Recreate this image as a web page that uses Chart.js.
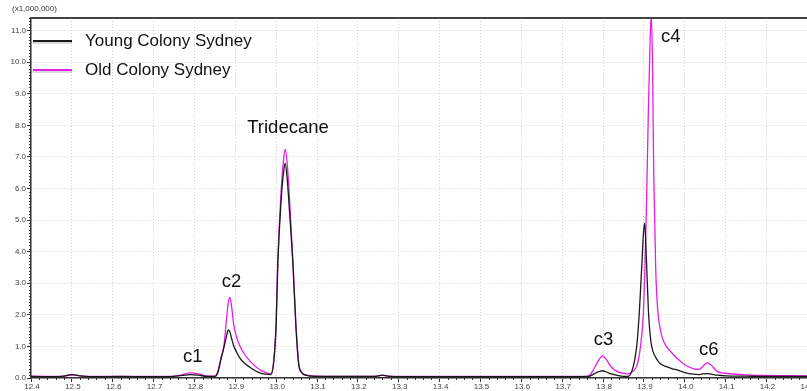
<!DOCTYPE html>
<html>
<head>
<meta charset="utf-8">
<script src="https://cdn.jsdelivr.net/npm/chart.js@4.4.1/dist/chart.umd.min.js"></script>
<style>
  html, body { margin: 0; padding: 0; background: #fff; overflow: hidden; }
  #wrap { width: 856px; height: 391px; }
</style>
</head>
<body>
<div id="wrap"><canvas id="chromCanvas" width="856" height="391"></canvas></div>
<script>
// retention time (min)
const retention = [
  12.40, 12.45, 12.48, 12.50, 12.52, 12.56, 12.62, 12.68, 12.74, 12.77, 12.79, 12.81, 12.83, 12.85,
  12.858, 12.865, 12.872, 12.878, 12.883, 12.887, 12.891, 12.896, 12.902, 12.91, 12.92, 12.94, 12.96, 12.975, 12.987,
  12.994, 13.0, 13.004, 13.012, 13.018, 13.022, 13.027, 13.033, 13.041, 13.048, 13.055, 13.062, 13.075, 13.1,
  13.2, 13.24, 13.26, 13.28, 13.35, 13.45, 13.55, 13.65, 13.73, 13.765,
  13.778, 13.79, 13.799, 13.808, 13.82, 13.835, 13.85, 13.861,
  13.870, 13.877, 13.883, 13.889, 13.895, 13.899, 13.902, 13.906, 13.911, 13.915, 13.918, 13.921, 13.924,
  13.929, 13.934, 13.94, 13.947, 13.955, 13.968, 13.985, 14.0, 14.02, 14.035, 14.045, 14.055, 14.065,
  14.08, 14.1, 14.15, 14.2, 14.3, 14.4
];

// intensity (x1,000,000)
const youngSydney = [
  0.05, 0.04, 0.06, 0.11, 0.07, 0.04, 0.05, 0.04, 0.04, 0.08, 0.11, 0.09, 0.05, 0.05,
  0.2, 0.6, 0.96, 1.3, 1.52, 1.45, 1.25, 1.02, 0.85, 0.65, 0.5, 0.3, 0.16, 0.12, 0.11,
  0.5, 1.7, 3.6, 5.6, 6.5, 6.8, 6.3, 5.2, 3.6, 1.7, 0.44, 0.18, 0.08, 0.05,
  0.05, 0.05, 0.09, 0.05, 0.04, 0.04, 0.04, 0.04, 0.04, 0.05,
  0.13, 0.2, 0.23, 0.19, 0.13, 0.08, 0.05, 0.05,
  0.2, 0.54, 1.08, 2.13, 3.6, 4.6, 4.9, 3.8, 2.13, 1.4, 1.08, 0.9, 0.78,
  0.65, 0.54, 0.46, 0.4, 0.36, 0.3, 0.24, 0.17, 0.12, 0.11, 0.13, 0.14, 0.12,
  0.09, 0.07, 0.06, 0.05, 0.05, 0.04
];

const oldSydney = [
  0.06, 0.05, 0.06, 0.1, 0.07, 0.05, 0.05, 0.05, 0.05, 0.1, 0.16, 0.13, 0.07, 0.06,
  0.25, 0.65, 1.0, 1.8, 2.4, 2.55, 2.25, 1.7, 1.35, 1.05, 0.8, 0.48, 0.26, 0.17, 0.13,
  0.55, 1.8, 3.7, 5.9, 6.9, 7.25, 6.8, 5.6, 3.7, 1.8, 0.5, 0.2, 0.09, 0.06,
  0.05, 0.05, 0.08, 0.05, 0.05, 0.05, 0.05, 0.05, 0.05, 0.07,
  0.3, 0.58, 0.7, 0.58, 0.35, 0.2, 0.15, 0.13,
  0.18, 0.26, 0.4, 0.75, 1.4, 2.13, 3.3, 5.3, 8.5, 10.6, 11.5, 10.0, 6.5,
  3.4, 2.13, 1.55, 1.2, 1.0, 0.8, 0.58, 0.42, 0.3, 0.27, 0.38, 0.48, 0.4,
  0.2, 0.15, 0.1, 0.08, 0.07, 0.06
];

const seriesNames = ['Young Colony Sydney', 'Old Colony Sydney'];

// peak annotations: text, retention time of label centre, intensity at label baseline
const peakNames = ['c1', 'c2', 'Tridecane', 'c3', 'c4', 'c6'];
const peakTimes = [12.796, 12.891, 13.029, 13.801, 13.966, 14.059];
const peakLevels = [0.51, 2.88, 7.77, 1.04, 10.64, 0.73];

const FONT = '"Liberation Sans", Arial, Helvetica, sans-serif';

const chromDecor = {
  id: 'chromDecor',
  afterDraw(chart) {
    const ctx = chart.ctx;
    const a = chart.chartArea;
    const x = chart.scales.x;
    const y = chart.scales.y;
    ctx.save();

    // minor ticks
    ctx.strokeStyle = '#333';
    ctx.lineWidth = 1;
    ctx.beginPath();
    for (let i = 1; i <= 114; i++) {
      if (i % 10 === 0) continue;
      const py = Math.round(y.getPixelForValue(i / 10)) + 0.5;
      ctx.moveTo(a.left - 2, py);
      ctx.lineTo(a.left, py);
    }
    for (let i = 1; i <= 100; i++) {
      if (i % 5 === 0) continue;
      const px = Math.round(x.getPixelForValue(12.4 + i * 0.02)) + 0.5;
      ctx.moveTo(px, a.bottom);
      ctx.lineTo(px, a.bottom + 2);
    }
    ctx.stroke();

    // top frame line
    ctx.strokeStyle = '#444';
    ctx.lineWidth = 2;
    ctx.beginPath();
    ctx.moveTo(a.left, a.top);
    ctx.lineTo(a.right, a.top);
    ctx.stroke();

    // unit label
    ctx.fillStyle = '#333';
    ctx.font = '8px ' + FONT;
    ctx.textAlign = 'left';
    ctx.textBaseline = 'middle';
    ctx.fillText('(x1,000,000)', 12, 9);

    // legend
    ctx.font = '17px ' + FONT;
    chart.data.datasets.forEach((ds, i) => {
      const ly = a.top + 23 + i * 29;
      ctx.strokeStyle = 'rgba(0,0,0,0.15)';
      ctx.lineWidth = 2;
      ctx.beginPath();
      ctx.moveTo(a.left + 2, ly + 2);
      ctx.lineTo(a.left + 41, ly + 2);
      ctx.stroke();
      ctx.strokeStyle = ds.borderColor;
      ctx.lineWidth = 2;
      ctx.beginPath();
      ctx.moveTo(a.left + 2, ly);
      ctx.lineTo(a.left + 41, ly);
      ctx.stroke();
      ctx.fillStyle = '#111';
      ctx.textBaseline = 'middle';
      ctx.fillText(ds.label, a.left + 54, ly);
    });

    // peak labels
    ctx.font = '18.5px ' + FONT;
    ctx.fillStyle = '#111';
    ctx.textAlign = 'center';
    ctx.textBaseline = 'alphabetic';
    peakNames.forEach((name, i) => {
      ctx.fillText(name, x.getPixelForValue(peakTimes[i]), y.getPixelForValue(peakLevels[i]));
    });

    ctx.restore();
  }
};

const axisCommon = {
  grid: { color: '#d2d2d2', lineWidth: 1, tickColor: '#333', tickLength: 4 },
  border: { color: '#333', width: 1.5, dash: [1, 2] }
};

new Chart(document.getElementById('chromCanvas').getContext('2d'), {
  type: 'line',
  data: {
    datasets: [
      {
        label: seriesNames[0],
        data: retention.map((t, i) => ({ x: t, y: youngSydney[i] })),
        borderColor: '#1a1a1a',
        borderWidth: 1.3,
        pointRadius: 0,
        cubicInterpolationMode: 'monotone',
        fill: false
      },
      {
        label: seriesNames[1],
        data: retention.map((t, i) => ({ x: t, y: oldSydney[i] })),
        borderColor: '#e61ee6',
        borderWidth: 1.3,
        pointRadius: 0,
        cubicInterpolationMode: 'monotone',
        fill: false
      }
    ]
  },
  options: {
    responsive: false,
    animation: false,
    devicePixelRatio: 1,
    layout: { padding: { top: 18, left: 0, right: 0, bottom: 0 } },
    plugins: { legend: { display: false }, tooltip: { enabled: false } },
    scales: {
      x: {
        type: 'linear',
        min: 12.4,
        max: 14.4,
        afterFit: s => { s.height = 13; },
        ticks: {
          stepSize: 0.1,
          maxTicksLimit: 40,
          autoSkip: false,
          maxRotation: 0,
          padding: 0,
          labelOffset: 1,
          color: '#444',
          font: { size: 8, family: FONT },
          callback: v => v.toFixed(1)
        },
        grid: axisCommon.grid,
        border: axisCommon.border
      },
      y: {
        type: 'linear',
        min: 0,
        max: 11.4,
        afterFit: s => { s.width = 31; },
        afterBuildTicks: s => {
          s.ticks = s.ticks.filter(t => Math.abs(t.value - Math.round(t.value)) < 1e-6);
        },
        ticks: {
          stepSize: 1,
          padding: 1,
          color: '#444',
          font: { size: 8, family: FONT },
          callback: v => v.toFixed(1)
        },
        grid: axisCommon.grid,
        border: axisCommon.border
      }
    }
  },
  plugins: [chromDecor]
});
</script>
</body>
</html>
